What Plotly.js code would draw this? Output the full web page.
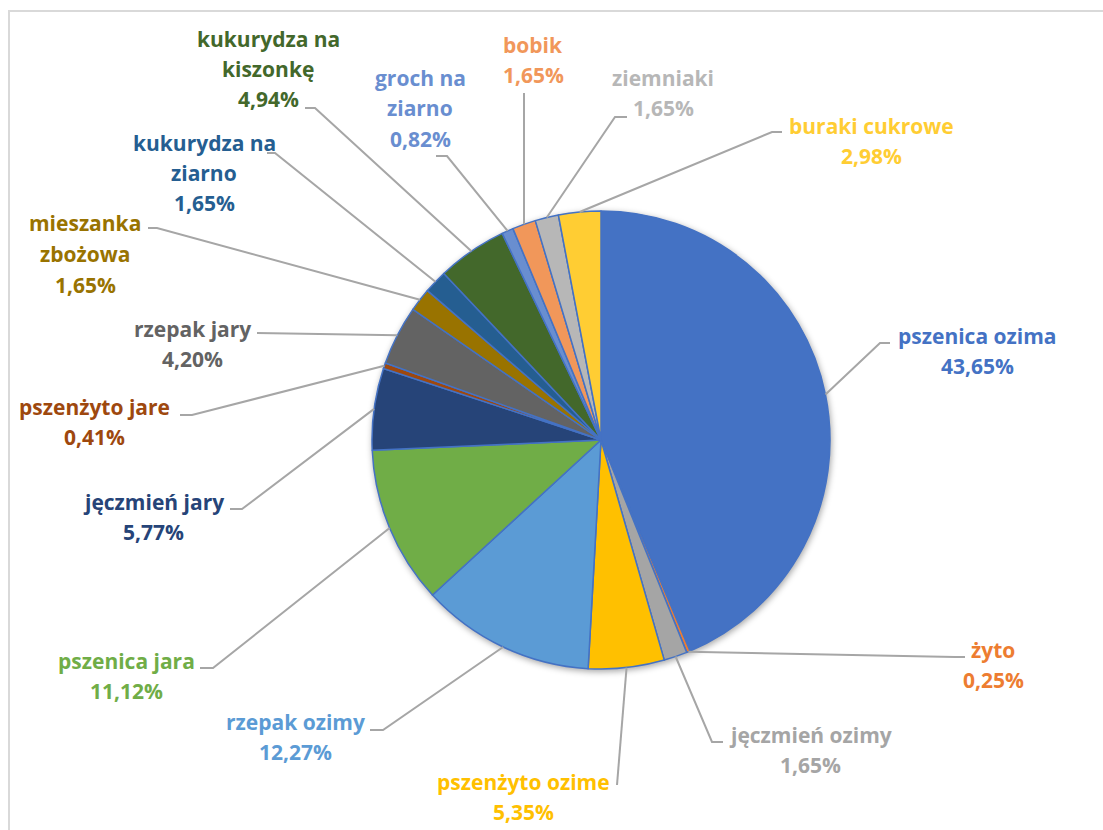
<!DOCTYPE html>
<html><head><meta charset="utf-8">
<script src="https://cdn.plot.ly/plotly-3.0.1.min.js"></script>
<style>
html,body{margin:0;padding:0;background:#fff}
#chart{width:1103px;height:830px}
.pielayer .trace{filter:drop-shadow(1px 2px 3px rgba(0,0,0,0.35));}
</style>
</head><body><div id="chart"></div>
<script>
// ---- data ----
const categories = ["pszenica ozima","żyto","jęczmień ozimy","pszenżyto ozime","rzepak ozimy","pszenica jara","jęczmień jary","pszenżyto jare","rzepak jary","mieszanka zbożowa","kukurydza na ziarno","kukurydza na kiszonkę","groch na ziarno","bobik","ziemniaki","buraki cukrowe"];
const values = [43.65,0.25,1.65,5.35,12.27,11.12,5.77,0.41,4.20,1.65,1.65,4.94,0.82,1.65,1.65,2.98];
const displayNames = ["pszenica ozima","żyto","jęczmień ozimy","pszenżyto ozime","rzepak ozimy","pszenica jara","jęczmień jary","pszenżyto jare","rzepak jary","mieszanka|zbożowa","kukurydza na|ziarno","kukurydza na|kiszonkę","groch na|ziarno","bobik","ziemniaki","buraki cukrowe"];

// ---- style ----
const colors = ["#4472C4","#ED7D31","#A5A5A5","#FFC000","#5B9BD5","#70AD47","#264478","#9E480E","#636363","#997300","#255E91","#43682B","#698ED0","#F1975A","#B7B7B7","#FFCD33"];
const W = 1103, H = 830, CX = 601, CY = 440, R = 229, LINE_H = 30.5;
// label block centres (px) and leader line elbow / end points (px)
const labelPos = [[977,351],[993,665],[810,750],[523,797],[295,737],[126,676],[153,517],[94,422],[192,344],[85,254],[204,173],[268,69],[420,108],[533,60],[663,93],[871,141]];
const leaderElbow = [[880,343],[955,657],[712,742],[617,785],[383,730],[213,668],[242,509],[192,415],[257,333],[157,228],[275,153],[315,108],[447,156],[524,93],[615,117],[772,132]];
const leaderEnd = [[890,343],[965,657],[723,742],[617,785],[370,730],[200,668],[230,509],[180,415],[257,333],[148,228],[267,153],[305,108],[436,156],[524,93],[627,117],[782,132]];

const px = x => x / W;
const py = y => 1 - y / H;
const total = values.reduce((a,b)=>a+b,0);

const shapes = [{
  type:'path', xref:'paper', yref:'paper',
  path:`M ${px(9)} 0 L ${px(9)} ${py(11)} L 1 ${py(11)}`,
  line:{color:'#D9D9D9', width:2}
}];
const annotations = [];
let cum = 0;
values.forEach((v,i)=>{
  const ang = (cum + v/2) / total * 2 * Math.PI;
  cum += v;
  const ex = CX + R*Math.sin(ang), ey = CY - R*Math.cos(ang);
  const [bx,by] = leaderElbow[i], [tx,ty] = leaderEnd[i];
  shapes.push({type:'path', xref:'paper', yref:'paper',
    path:`M ${px(ex)} ${py(ey)} L ${px(bx)} ${py(by)} L ${px(tx)} ${py(ty)}`,
    line:{color:'#A6A6A6', width:2}});
  const lines = displayNames[i].split('|').concat([v.toFixed(2).replace('.',',') + '%']);
  const y0 = labelPos[i][1] - (lines.length-1)*LINE_H/2;
  lines.forEach((t,k)=>{
    annotations.push({
      xref:'paper', yref:'paper', x:px(labelPos[i][0]), y:py(y0 + k*LINE_H),
      xanchor:'center', yanchor:'middle', showarrow:false, align:'center',
      text:t,
      font:{family:'Open Sans, sans-serif', size:21, color:colors[i], weight:700}
    });
  });
});

const trace = {
  type:'pie', labels:categories, values:values, sort:false, direction:'clockwise', rotation:0,
  marker:{colors:colors, line:{color:'#4472C4', width:1.5}},
  textinfo:'none', hoverinfo:'label+percent', showlegend:false,
  domain:{x:[px(CX-R), px(CX+R)], y:[py(CY+R), py(CY-R)]}
};
Plotly.newPlot('chart',[trace],{
  width:W, height:H, margin:{l:0,r:0,t:0,b:0}, paper_bgcolor:'#fff',
  showlegend:false, shapes:shapes, annotations:annotations
},{displayModeBar:false, staticPlot:true});
</script></body></html>
